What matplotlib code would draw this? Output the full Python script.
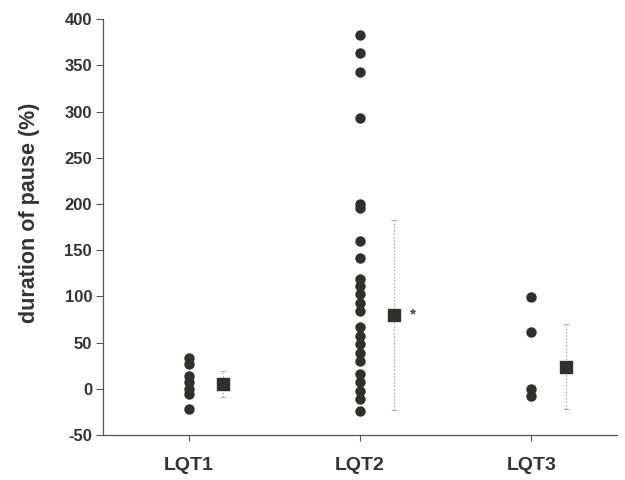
import matplotlib.pyplot as plt

# values
groups = ["LQT1", "LQT2", "LQT3"]
lqt1 = [33, 27, 14, 7, 0, -6, -22]
lqt2 = [383, 363, 343, 293, 200, 196, 160, 141, 119, 111, 102, 93, 84,
        67, 57, 48, 39, 30, 16, 7, -2, -11, -24]
lqt3 = [99, 61, 0, -8]
means = [5, 80, 24]
sds = [14, 103, 46]
significant = [False, True, False]

plt.rcParams["font.family"] = ["Liberation Sans", "DejaVu Sans"]
plt.rcParams["font.weight"] = "bold"
plt.rcParams["axes.unicode_minus"] = False

dot_color = "#2d302d"
axis_color = "#555555"
text_color = "#333333"

fig = plt.figure(figsize=(6.25, 4.8), dpi=100)
ax = fig.add_axes([0.165, 0.094, 0.822, 0.866])

for i, vals in enumerate([lqt1, lqt2, lqt3]):
    pos = i + 1
    ax.plot([pos] * len(vals), vals, "o", color=dot_color, markersize=7.5,
            markeredgewidth=0, linestyle="none")
    eb = ax.errorbar(pos + 0.2, means[i], yerr=sds[i], fmt="s", color=dot_color,
                     markersize=8, ecolor="#999999", elinewidth=0.9,
                     capsize=2, capthick=0.5)
    eb[-1][0].set_linestyle(":")
    if significant[i]:
        ax.text(pos + 0.31, means[i], "*", ha="center", va="center",
                fontsize=11, color="#444444")

ax.set_xlim(0.5, 3.5)
ax.set_ylim(-50, 400)
ax.set_yticks(range(-50, 401, 50))
ax.set_xticks([1, 2, 3])
ax.set_xticklabels(groups)

for side in ["top", "right"]:
    ax.spines[side].set_visible(False)
for side in ["left", "bottom"]:
    ax.spines[side].set_color(axis_color)
    ax.spines[side].set_linewidth(0.9)

ax.tick_params(axis="y", direction="out", length=5, width=0.8, color=axis_color,
               labelsize=12, labelcolor=text_color, pad=3)
ax.tick_params(axis="x", direction="out", length=4, width=0.8, color=axis_color,
               labelsize=14, labelcolor=text_color, pad=12)

ax.set_ylabel("duration of pause (%)", fontsize=15.5, fontweight="bold",
              color=text_color)
ax.yaxis.set_label_coords(-0.123, 0.534)

fig.savefig("out.png", dpi=100)
